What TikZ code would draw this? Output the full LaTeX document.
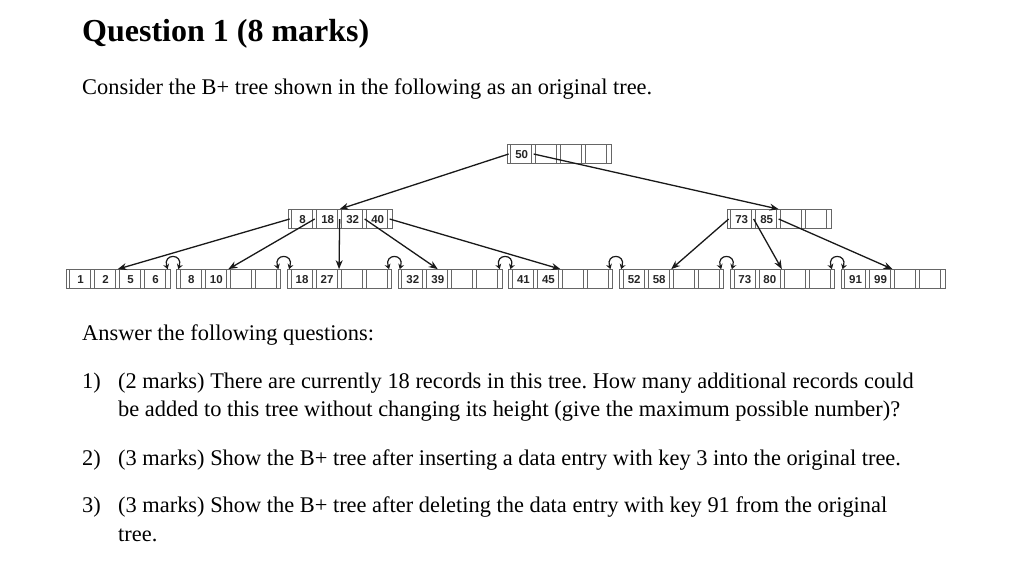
\documentclass[tikz,border=0pt]{standalone}
\usepackage{fontspec}
\setmainfont{Liberation Serif}
\newfontfamily\keyfont{Liberation Sans}
\usetikzlibrary{arrows.meta,positioning,calc}
\frenchspacing
\tikzset{
  bpbox/.style={rectangle, draw=black!60, line width=0.7pt, minimum width=104pt,
                minimum height=19pt, inner sep=0pt},
  bpgrid/.style={draw=black!60, line width=0.7pt},
  bpkey/.style={inner sep=0pt, anchor=base, text=black!85,
                font=\keyfont\bfseries\fontsize{11.5}{11.5}\selectfont},
  ptr/.style={-{Stealth[length=9pt,width=7pt]}, line width=1.3pt, draw=black!90},
  sib/.style={{Stealth[length=5pt,width=6pt]}-{Stealth[length=5pt,width=6pt]},
              line width=1.2pt, draw=black!90},
  title/.style={anchor=base west, inner sep=0pt, font=\bfseries\fontsize{32}{38}\selectfont},
  body/.style={anchor=base west, inner sep=0pt, font=\fontsize{22.4}{28}\selectfont}
}
% one B+ tree page: 5 pointer cells, 4 key cells
\newcommand{\bpnode}[6]{%
  \node[bpbox, #2] (#1) {};
  \foreach \i in {0,...,3} {
    \draw[bpgrid] ($(#1.north west)+(4+25*\i,0)$) -- ($(#1.south west)+(4+25*\i,0)$);
    \draw[bpgrid] ($(#1.north west)+(25+25*\i,0)$) -- ($(#1.south west)+(25+25*\i,0)$);
  }
  \foreach \i in {0,...,4}
    \coordinate (#1-p\i) at ($(#1.west)+(2+25*\i,0)$);
  \node[bpkey] (#1-k1) at ($(#1.west)+(15,4.2)$) {#3};
  \node[bpkey] (#1-k2) at ($(#1.west)+(40,4.2)$) {#4};
  \node[bpkey] (#1-k3) at ($(#1.west)+(65,4.2)$) {#5};
  \node[bpkey] (#1-k4) at ($(#1.west)+(90,4.2)$) {#6};
}

\begin{document}
\begin{tikzpicture}[x=1pt, y=-1pt]
\useasboundingbox[fill=white] (0,0) rectangle (1024,566);

% --- Heading ---
\node[title] (ttl) at (82,41) {Question 1 (8 marks)};
\node[body] (intro) at (82,94) {Consider the B+ tree shown in the following as an original tree.};

% --- Index pages ---
\bpnode{root}{at={(559,154)}}{50}{}{}{}
\bpnode{in1}{at={(340,219)}}{8}{18}{32}{40}
\bpnode{in2}{at={(779,219)}}{73}{85}{}{}

% --- Leaf pages ---
\bpnode{l1}{at={(118,279)}}{1}{2}{5}{6}
\bpnode{l2}{right=6pt of l1}{8}{10}{}{}
\bpnode{l3}{right=6pt of l2}{18}{27}{}{}
\bpnode{l4}{right=6pt of l3}{32}{39}{}{}
\bpnode{l5}{right=6pt of l4}{41}{45}{}{}
\bpnode{l6}{right=6pt of l5}{52}{58}{}{}
\bpnode{l7}{right=6pt of l6}{73}{80}{}{}
\bpnode{l8}{right=6pt of l7}{91}{99}{}{}

% --- Pointers ---
\draw[ptr] (root-p0) -- (in1-p2 |- in1.north);
\draw[ptr] (root-p1) -- (in2-p2 |- in2.north);

\draw[ptr] (in1-p0) -- (l1-p2 |- l1.north);
\draw[ptr] (in1-p1) -- (l2-p2 |- l2.north);
\draw[ptr] (in1-p2) -- (l3-p2 |- l3.north);
\draw[ptr] (in1-p3) -- (l4-k2 |- l4.north);
\draw[ptr] (in1-p4) -- (l5-p2 |- l5.north);

\draw[ptr] (in2-p0) -- (l6-p2 |- l6.north);
\draw[ptr] (in2-p1) -- (l7-p2 |- l7.north);
\draw[ptr] (in2-p2) -- (l8-p2 |- l8.north);

% --- Sibling links ---
\foreach \a/\b in {l1/l2, l2/l3, l3/l4, l4/l5, l5/l6, l6/l7, l7/l8}
  \draw[sib] (\a-p4 |- \a.north) .. controls +(-5,-16) and +(5,-16) .. (\b-p0 |- \b.north);

% --- Questions ---
\node[body] (ans) at (82,340) {Answer the following questions:};
\node[body] (n1) at (82,388) {1)};
\node[body] (q1a) at (118,388) {(2 marks) There are currently 18 records in this tree. How many additional records could};
\node[body] (q1b) at (118,416) {be added to this tree without changing its height (give the maximum possible number)?};
\node[body] (n2) at (82,465) {2)};
\node[body] (q2) at (118,465) {(3 marks) Show the B+ tree after inserting a data entry with key 3 into the original tree.};
\node[body] (n3) at (82,512) {3)};
\node[body] (q3a) at (118,512) {(3 marks) Show the B+ tree after deleting the data entry with key 91 from the original};
\node[body] (q3b) at (118,541) {tree.};

\end{tikzpicture}
\end{document}
